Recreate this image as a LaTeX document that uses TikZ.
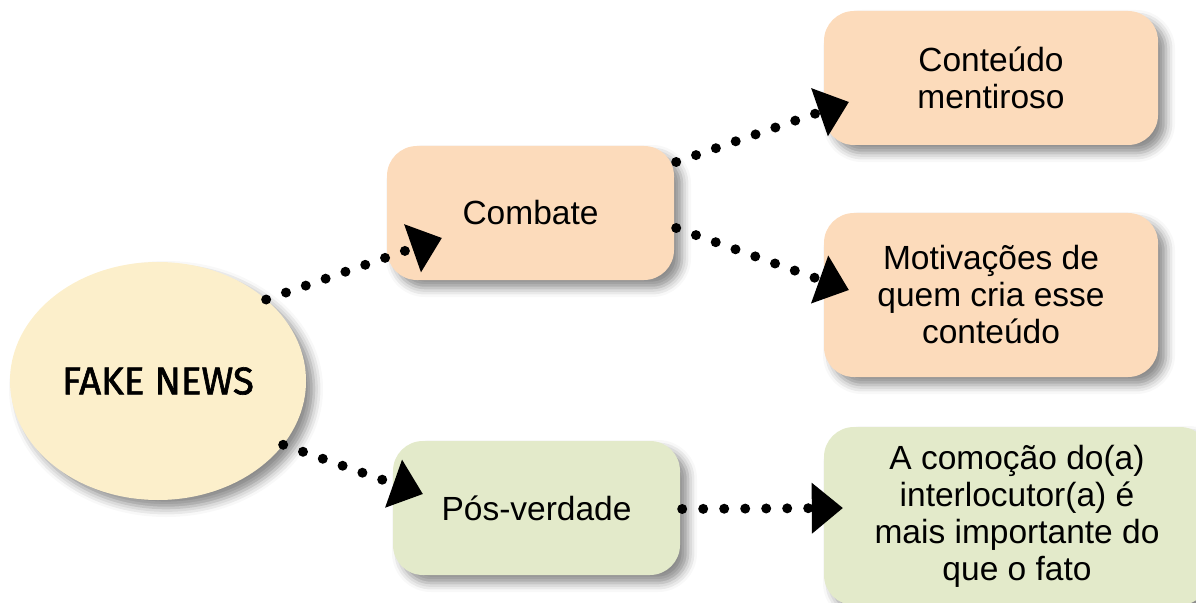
\documentclass[tikz,border=0pt]{standalone}
\usepackage{fontspec}
\setmainfont{Liberation Sans}
\newfontfamily\fakefont[FakeBold=1.6]{Fira Sans}
\usetikzlibrary{arrows.meta,shadows.blur,calc,shapes.geometric}
\definecolor{peach}{RGB}{252,219,187}
\definecolor{sage}{RGB}{227,234,202}
\definecolor{cream}{RGB}{252,239,203}
\tikzset{
  shad/.style={blur shadow={shadow xshift=8bp, shadow yshift=-8bp, shadow blur radius=9bp, shadow opacity=45}},
  box/.style={rectangle, rounded corners=30bp, inner sep=0pt, align=center, shad,
    font=\fontsize{33.5bp}{37bp}\selectfont},
  conn/.style={line width=10bp, line cap=round, dash pattern=on 0bp off 21bp,
    -{Triangle[length=31bp,width=51bp,line width=0pt]}},
}
\begin{document}
\begin{tikzpicture}[x=1bp,y=-1bp]
\useasboundingbox (0,0) rectangle (1196,603);
\node[ellipse, fill=cream, minimum width=296bp, minimum height=238bp, inner sep=0pt, shad,
  font=\fakefont\fontsize{38.5bp}{42bp}\selectfont] (fake) at (158,381) {FAKE NEWS};
\node[box, fill=peach, minimum width=287bp, minimum height=134bp] (comb) at (530.5,213) {Combate};
\node[box, fill=peach, minimum width=334bp, minimum height=134bp] (cont) at (991,78) {Conteúdo\\mentiroso};
\node[box, fill=peach, minimum width=334bp, minimum height=164bp] (motiv) at (991,295) {Motivações de\\quem cria esse\\conteúdo};
\node[box, fill=sage, minimum width=287bp, minimum height=134bp] (pos) at (536.5,508) {Pós-verdade};
\node[box, fill=sage, minimum width=386bp, minimum height=178bp] (como) at (1017,516) {A comoção do(a)\\interlocutor(a) é\\mais importante do\\que o fato};
\draw[conn] (fake.37) -- ($(comb.west)+(55,25)$);
\draw[conn] (fake.-27) -- ($(pos.west)+(30,-14)$);
\draw[conn] ($(comb.east)+(2,-51)$) -- ($(cont.west)+(25,24)$);
\draw[conn] ($(comb.east)+(2,15)$) -- ($(motiv.west)+(25,-5)$);
\draw[conn] ($(pos.east)+(2,1)$) -- ($(como.west)+(19,-8)$);
\end{tikzpicture}
\end{document}
